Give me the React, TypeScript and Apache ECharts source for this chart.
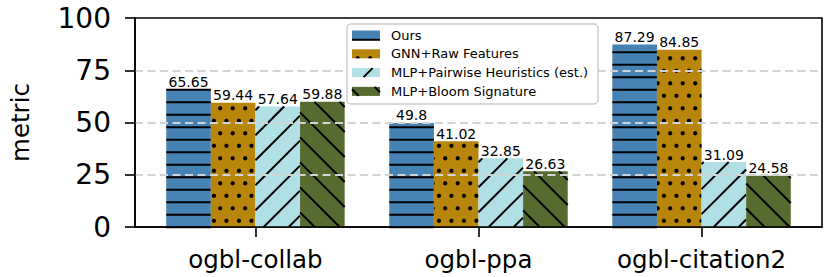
import React, { useEffect, useRef } from 'react';
import * as echarts from 'echarts';

const categories = ['ogbl-collab', 'ogbl-ppa', 'ogbl-citation2'];
const seriesNames = ['Ours', 'GNN+Raw Features', 'MLP+Pairwise Heuristics (est.)', 'MLP+Bloom Signature'];
const oursValues = [65.65, 49.8, 87.29];
const gnnValues = [59.44, 41.02, 84.85];
const pairwiseValues = [57.64, 32.85, 31.09];
const bloomValues = [59.88, 26.63, 24.58];
const yTicks = [0, 25, 50, 75, 100];
const xTicks = [0, 1, 2];

const FONT = 'DejaVu Sans';
const colors = ['#4682B4', '#B8860B', '#B0E0E6', '#556B2F'];
const hatchKinds = ['h', 'dots', 'ne', 'se'];
const offsets = [-0.3, -0.1, 0.1, 0.3];
const BAR_W = 0.2;
const HLW = 2;

function hatch(kind: string, x0: number, y0: number, x1: number, y1: number, z?: number): any[] {
  const out: any[] = [];
  const ls = { stroke: '#000', lineWidth: HLW };
  const zz = z === undefined ? {} : { z };
  if (kind === 'h') {
    const sp = 12.5, ph = 2.3;
    const k0 = Math.ceil((y0 - ph) / sp);
    for (let k = k0; ph + k * sp <= y1 + 0.5; k++) {
      const y = ph + k * sp;
      out.push({ type: 'line', ...zz, shape: { x1: x0, y1: y, x2: x1, y2: y }, style: ls });
    }
  } else if (kind === 'ne') {
    const sp = 25, ph = 15.7;
    const k0 = Math.floor((x0 + y0 - ph) / sp);
    const k1 = Math.ceil((x1 + y1 - ph) / sp);
    for (let k = k0; k <= k1; k++) {
      const s = ph + k * sp;
      const xa = Math.max(x0, s - y1), xb = Math.min(x1, s - y0);
      if (xb > xa) out.push({ type: 'line', ...zz, shape: { x1: xa, y1: s - xa, x2: xb, y2: s - xb }, style: ls });
    }
  } else if (kind === 'se') {
    const sp = 25, ph = 12.7;
    const k0 = Math.floor((x0 - y1 - ph) / sp);
    const k1 = Math.ceil((x1 - y0 - ph) / sp);
    for (let k = k0; k <= k1; k++) {
      const s = ph + k * sp;
      const xa = Math.max(x0, y0 + s), xb = Math.min(x1, y1 + s);
      if (xb > xa) out.push({ type: 'line', ...zz, shape: { x1: xa, y1: xa - s, x2: xb, y2: xb - s }, style: ls });
    }
  } else if (kind === 'dots') {
    const sp = 12.5, r = 2.1;
    const rowPh = 108.3, colPhA = 207.7, colPhB = 201.45;
    const j0 = Math.floor((y0 - r - rowPh) / sp), j1 = Math.ceil((y1 + r - rowPh) / sp);
    for (let j = j0; j <= j1; j++) {
      const cy = rowPh + j * sp;
      const par = ((j % 2) + 2) % 2;
      const cph = par === 0 ? colPhA : colPhB;
      const k0 = Math.floor((x0 - r - cph) / sp), k1 = Math.ceil((x1 + r - cph) / sp);
      for (let k = k0; k <= k1; k++) {
        const cx = cph + k * sp;
        if (cx + r <= x0 || cx - r >= x1 || cy + r <= y0 || cy - r >= y1) continue;
        const pts: number[][] = [];
        for (let a = 0; a < 20; a++) {
          const t = (a / 20) * Math.PI * 2;
          const px = Math.min(x1, Math.max(x0, cx + r * Math.cos(t)));
          const py = Math.min(y1, Math.max(y0, cy + r * Math.sin(t)));
          pts.push([px, py]);
        }
        out.push({ type: 'polygon', ...zz, shape: { points: pts }, style: { fill: '#000' } });
      }
    }
  }
  return out;
}

const seriesValues = [oursValues, gnnValues, pairwiseValues, bloomValues];

export default function App() {
  const ref = useRef<HTMLDivElement>(null);
  useEffect(() => {
    const chart = echarts.init(ref.current!, null, { renderer: 'svg' });
    const series = seriesValues.map((vals, si) => ({
      type: 'custom',
      name: seriesNames[si],
      itemStyle: { color: colors[si] },
      data: vals.map((v, i) => [i, v]),
      encode: { x: 0, y: 1 },
      z: 2,
      renderItem: (params: any, api: any) => {
        const i = api.value(0);
        const v = api.value(1);
        const pL = api.coord([i + offsets[si] - BAR_W / 2, v]);
        const pR = api.coord([i + offsets[si] + BAR_W / 2, 0]);
        const x0 = pL[0], y0 = pL[1], x1 = pR[0], y1 = pR[1];
        return {
          type: 'group',
          children: [
            { type: 'rect', shape: { x: x0, y: y0, width: x1 - x0, height: y1 - y0 }, style: { fill: colors[si] } },
            ...hatch(hatchKinds[si], x0, y0, x1, y1),
            {
              type: 'text',
              style: {
                text: String(vals[params.dataIndex]),
                x: (x0 + x1) / 2,
                y: y0 - 0.5,
                align: 'center',
                verticalAlign: 'bottom',
                fontSize: 14,
                fontFamily: FONT,
                fill: '#000',
              },
            },
          ],
        };
      },
    }));

    const lgX = 347, lgY = 24, lgW = 251, lgH = 80;
    const rowY = [35, 53.8, 72.6, 91.4];
    const LZ = 100;
    const legendChildren: any[] = [
      { type: 'rect', z: LZ, shape: { x: lgX, y: lgY, width: lgW, height: lgH, r: 4 }, style: { fill: 'rgba(255,255,255,0.92)', stroke: '#cccccc', lineWidth: 1.5 } },
    ];
    seriesNames.forEach((nm, si) => {
      const px0 = 352, px1 = 380, py0 = rowY[si] - 4.5, py1 = rowY[si] + 4.5;
      legendChildren.push({ type: 'rect', z: LZ + 1, shape: { x: px0, y: py0, width: px1 - px0, height: py1 - py0 }, style: { fill: colors[si] } });
      hatch(hatchKinds[si], px0, py0, px1, py1, LZ + 2).forEach((h) => legendChildren.push(h));
      legendChildren.push({
        type: 'text',
        z: LZ + 2,
        style: { text: nm, x: 391, y: rowY[si], align: 'left', verticalAlign: 'middle', fontSize: 13, fontFamily: FONT, fill: '#000' },
      });
    });

    const axisLineStyle = { color: '#000', width: 1.6 };
    chart.setOption({
      animation: false,
      backgroundColor: '#fff',
      grid: { left: 123, right: 8, top: 18, bottom: 50, show: true, borderColor: '#000', borderWidth: 1.6, backgroundColor: 'transparent' },
      xAxis: {
        type: 'value',
        min: -0.54,
        max: 2.54,
        z: 10,
        splitLine: { show: false },
        axisLine: { show: true, onZero: false, lineStyle: axisLineStyle },
        axisTick: { show: true, customValues: xTicks, length: 10, lineStyle: axisLineStyle },
        axisLabel: {
          customValues: xTicks,
          formatter: (v: number) => categories[Math.round(v)],
          fontSize: 24.5,
          fontFamily: FONT,
          color: '#000',
          margin: 20,
        },
      },
      yAxis: {
        type: 'value',
        min: 0,
        max: 100,
        interval: 25,
        z: 10,
        name: 'metric',
        nameLocation: 'middle',
        nameGap: 102,
        nameRotate: 90,
        nameTextStyle: { fontSize: 24.5, fontFamily: FONT, color: '#000' },
        axisLine: { show: true, onZero: false, lineStyle: axisLineStyle },
        axisTick: { show: true, customValues: yTicks, length: 10, lineStyle: axisLineStyle },
        axisLabel: { customValues: yTicks, fontSize: 28, fontFamily: FONT, color: '#000', margin: 24 },
        splitLine: { show: true, showMinLine: false, showMaxLine: false, lineStyle: { color: '#d3d3d3', width: 1.8, type: [8, 4.5] } },
      },
      series,
      graphic: legendChildren,
    });
    return () => chart.dispose();
  }, []);
  return <div ref={ref} style={{ position: 'absolute', left: 0, top: 0, width: 830, height: 277 }} />;
}
